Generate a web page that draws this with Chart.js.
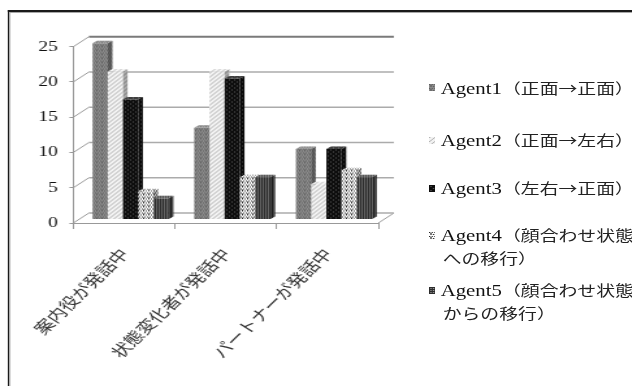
<!DOCTYPE html>
<html>
<head>
<meta charset="utf-8">
<script src="https://cdn.jsdelivr.net/npm/chart.js@4/dist/chart.umd.min.js"></script>
<style>
  html, body { margin: 0; padding: 0; background: #fff; overflow: hidden; }
  #page { position: relative; width: 632px; height: 386px; overflow: hidden; background: #fff; }
  /* the figure is laid out at 486px wide and widened to the page width */
  #stage { position: absolute; left: 0; top: 0; width: 486px; height: 386px;
           transform: scaleX(1.3); transform-origin: 0 0; }
  #frame { position: absolute; left: 6.4px; top: 10px; width: 600px; height: 500px;
           border-top: 2px solid #1a1a1a; border-left: 1.3px solid #1a1a1a; }
  #frame::after { content: ''; position: absolute; left: 0; top: 0; right: 0; bottom: 0;
           border-top: 1.5px solid #a8a8a8; border-left: 1.3px solid #a8a8a8; }
  #chart { position: absolute; left: 0; top: 0; }
  #legend { position: absolute; left: 0; top: 0; width: 486px; height: 386px; color: #111; }
  .sw { position: absolute; left: 329.5px; width: 5px; height: 7px; }
  .line { position: absolute; left: 339px; white-space: nowrap; line-height: 22px; height: 22px;
          font-family: "Liberation Serif", "Noto Sans CJK JP", serif; font-size: 16px; }
  .cjk { font-family: "Noto Sans CJK JP", sans-serif; font-size: 14.5px; color: #222; }
  .line.cont { left: 340.5px; }
</style>
</head>
<body>
<div id="page">
  <div id="stage">
    <div id="frame"></div>
    <canvas id="chart" width="486" height="386"></canvas>
    <div id="legend"></div>
  </div>
</div>
<script>
// Categories (who is speaking) and the five agents' counts
const categories = ['案内役が発話中', '状態変化者が発話中', 'パートナーが発話中'];
const agent1 = [25, 13, 10];
const agent2 = [21, 21, 5];
const agent3 = [17, 20, 10];
const agent4 = [4, 6, 7];
const agent5 = [3, 6, 6];
const seriesNames = [
  'Agent1（正面→正面）',
  'Agent2（正面→左右）',
  'Agent3（左右→正面）',
  'Agent4（顔合わせ状態\nへの移行）',
  'Agent5（顔合わせ状態\nからの移行）'
];
const yTickValues = [0, 5, 10, 15, 20, 25];

// 3-D look: depth of the back wall and of each column
const WALL_DX = 12, WALL_DY = -10;
const BAR_SHIFT_X = 5, BAR_SHIFT_Y = -3.5;
const BAR_DX = 3.5, BAR_DY = -2.5;

const canvas = document.getElementById('chart');
const ctx0 = canvas.getContext('2d');

// 4x4 fill textures for the monochrome series
function texture(base, dot, cells) {
  const c = document.createElement('canvas');
  c.width = 4; c.height = 4;
  const g = c.getContext('2d');
  g.fillStyle = base; g.fillRect(0, 0, 4, 4);
  g.fillStyle = dot;
  cells.forEach(([x, y]) => g.fillRect(x, y, 1, 1));
  return c;
}
const tiles = [
  texture('#8a8a8a', '#5e5e5e', [[0,0],[2,0],[1,2],[3,2],[1,1]]),
  texture('#f2f2f2', '#b4b4b4', [[0,0],[2,2],[1,3],[3,1]]),
  texture('#0e0e0e', '#5a5a5a', [[1,1],[3,3]]),
  texture('#ffffff', '#2a2a2a', [[0,0],[2,0],[1,2],[3,2],[1,1]]),
  texture('#2c2c2c', '#9a9a9a', [[1,1],[3,1],[1,3],[3,3]])
];
const patterns = tiles.map(t => ctx0.createPattern(t, 'repeat'));

// Back wall, side-wall grid and floor edge from the value scale; columns
// are then drawn left to right so each one overlaps its neighbour's side.
const wallPlugin = {
  id: 'wall',
  beforeDatasetsDraw(chart) {
    const { ctx, chartArea: a, scales: { y } } = chart;
    ctx.save();
    ctx.strokeStyle = '#9a9a9a';
    ctx.lineWidth = 1;
    ctx.beginPath();
    ctx.moveTo(a.right, a.bottom);
    ctx.lineTo(a.right + WALL_DX, a.bottom + WALL_DY);
    ctx.stroke();
    yTickValues.forEach(v => {
      const py = y.getPixelForValue(v);
      ctx.strokeStyle = '#9a9a9a';
      ctx.lineWidth = 1;
      ctx.beginPath();
      ctx.moveTo(a.left, py);
      ctx.lineTo(a.left + WALL_DX, py + WALL_DY);
      ctx.stroke();
      ctx.strokeStyle = v === 25 ? '#7a7a7a' : '#ababab';
      ctx.lineWidth = v === 25 ? 2 : 1.5;
      ctx.beginPath();
      ctx.moveTo(a.left + WALL_DX, py + WALL_DY);
      ctx.lineTo(a.right + WALL_DX, py + WALL_DY);
      ctx.stroke();
    });
    ctx.restore();
  },
  beforeDatasetDraw() {
    return false;
  },
  afterDatasetsDraw(chart) {
    const { ctx } = chart;
    ctx.save();
    // columns stand halfway into the depth
    ctx.translate(BAR_SHIFT_X, BAR_SHIFT_Y);
    chart.data.datasets.forEach((ds, i) => {
      const meta = chart.getDatasetMeta(i);
      const pat = patterns[i];
      meta.data.forEach(bar => {
        bar.draw(ctx);
        const { x, y, base, width } = bar.getProps(['x', 'y', 'base', 'width'], true);
        const l = x - width / 2, r = x + width / 2;
        // side face
        ctx.beginPath();
        ctx.moveTo(r, y);
        ctx.lineTo(r + BAR_DX, y + BAR_DY);
        ctx.lineTo(r + BAR_DX, base + BAR_DY);
        ctx.lineTo(r, base);
        ctx.closePath();
        ctx.fillStyle = pat; ctx.fill();
        ctx.fillStyle = 'rgba(0,0,0,0.3)'; ctx.fill();
        // top face
        ctx.beginPath();
        ctx.moveTo(l, y);
        ctx.lineTo(l + BAR_DX, y + BAR_DY);
        ctx.lineTo(r + BAR_DX, y + BAR_DY);
        ctx.lineTo(r, y);
        ctx.closePath();
        ctx.fillStyle = pat; ctx.fill();
        ctx.fillStyle = 'rgba(255,255,255,0.2)'; ctx.fill();
      });
    });
    ctx.restore();
  }
};

const series = [agent1, agent2, agent3, agent4, agent5];

new Chart(canvas, {
  type: 'bar',
  data: {
    labels: categories,
    datasets: series.map((vals, i) => ({
      label: seriesNames[i].replace('\n', ''),
      data: vals,
      backgroundColor: patterns[i],
      borderWidth: 0,
      clip: false,
      categoryPercentage: 0.75,
      barPercentage: 1.0
    }))
  },
  options: {
    responsive: false,
    devicePixelRatio: 1,
    animation: false,
    layout: { padding: { top: 46.7, right: 195, bottom: 0, left: 0 } },
    plugins: { legend: { display: false }, tooltip: { enabled: false } },
    scales: {
      x: {
        afterFit(scale) { scale.height = 163; },
        grid: { drawOnChartArea: false, tickLength: 6, color: '#999', offset: true },
        border: { color: '#999', width: 1 },
        ticks: {
          autoSkip: false, minRotation: 51, maxRotation: 51, padding: 16,
          color: '#333',
          font: { family: '"Noto Sans CJK JP", sans-serif', size: 15 }
        }
      },
      y: {
        min: 0, max: 25,
        afterFit(scale) { scale.width = 56.4; },
        grid: { drawOnChartArea: false, tickLength: 3, color: '#999' },
        border: { color: '#999', width: 1 },
        ticks: {
          stepSize: 5, padding: 9, color: '#111',
          font: { family: '"Liberation Serif", serif', size: 15 }
        }
      }
    }
  },
  plugins: [wallPlugin]
});

// Legend at the right, with the same textures as the columns
const legendTops = [76.7, 129, 177.3, 224, 279];
const legendLineGap = 23;
const legend = document.getElementById('legend');
seriesNames.forEach((name, i) => {
  const sw = document.createElement('canvas');
  sw.className = 'sw';
  sw.width = 5; sw.height = 7;
  sw.style.top = (legendTops[i] + 7.5) + 'px';
  const g = sw.getContext('2d');
  g.fillStyle = g.createPattern(tiles[i], 'repeat');
  g.fillRect(0, 0, 5, 7);
  legend.appendChild(sw);

  name.split('\n').forEach((part, k) => {
    const line = document.createElement('div');
    line.className = k === 0 ? 'line' : 'line cont';
    line.style.top = (legendTops[i] + k * legendLineGap) + 'px';
    const cut = part.indexOf('（');
    if (k === 0 && cut > 0) {
      line.appendChild(document.createTextNode(part.slice(0, cut)));
      const rest = document.createElement('span');
      rest.className = 'cjk';
      rest.textContent = part.slice(cut);
      line.appendChild(rest);
    } else {
      const rest = document.createElement('span');
      rest.className = 'cjk';
      rest.textContent = part;
      line.appendChild(rest);
    }
    legend.appendChild(line);
  });
});
</script>
</body>
</html>
